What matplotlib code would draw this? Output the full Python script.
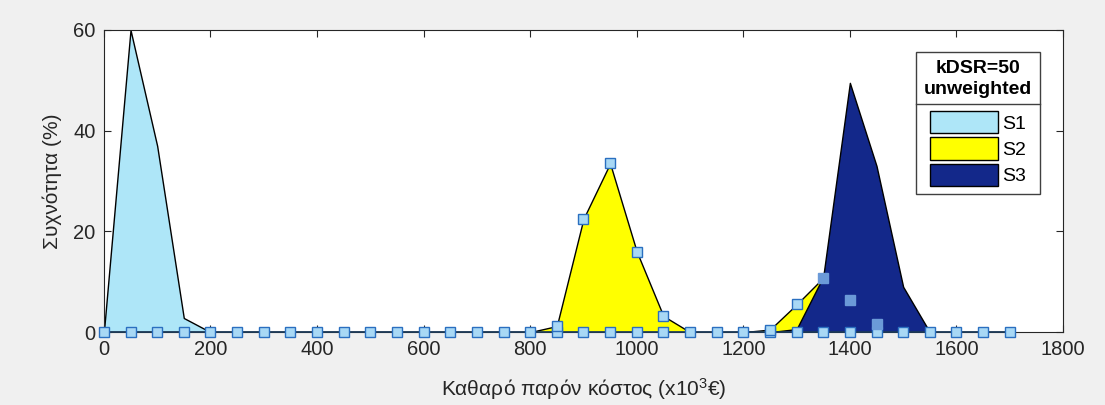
import numpy as np
from matplotlib import pyplot as plt
from matplotlib.patches import Patch
from matplotlib.lines import Line2D

plt.rcParams['font.family'] = ['Liberation Sans', 'DejaVu Sans']
plt.rcParams['mathtext.default'] = 'regular'

# cost bins (x10^3 EUR) and frequency (%) per scenario
cost = np.arange(0, 1750, 50)
s1 = [0, 60, 37, 2.8, 0] + [0] * 30
s2 = [0] * 17 + [1.2, 22.5, 33.5, 16, 3.2, 0, 0, 0, 0.5, 5.5, 10.8, 6.4, 1.7, 0] + [0] * 4
s3 = [0] * 26 + [0.6, 11, 49.5, 33, 9, 0] + [0] * 3
zero_line = [0] * 35

series = [("S1", s1, "#aee6f8"), ("S2", s2, "#ffff00"), ("S3", s3, "#13288a")]

fig = plt.figure(figsize=(11.05, 4.05), dpi=100, facecolor="#f0f0f0")
ax = fig.add_axes([0.094, 0.180, 0.868, 0.746])

for name, vals, col in series:
    ax.fill_between(cost, 0, vals, facecolor=col, edgecolor="black", linewidth=1, zorder=2)

ax.plot(cost, zero_line, color="#1d3c5c", linewidth=1.2, marker="s", markersize=7,
        markerfacecolor="#a8d8f5", markeredgecolor="#2a6fc0", markeredgewidth=1,
        zorder=4, clip_on=False)

s2a = np.array(s2)
s3a = np.array(s3)
shown = (s2a > 0) & (s3a <= s2a)
hidden = (s2a > 0) & (s3a > s2a)
ax.plot(cost[shown], s2a[shown], linestyle="none", marker="s", markersize=7,
        markerfacecolor="#a8d8f5", markeredgecolor="#2a6fc0", markeredgewidth=1,
        zorder=5, clip_on=False)
ax.plot(cost[hidden], s2a[hidden], linestyle="none", marker="s", markersize=7,
        markerfacecolor="#6b9ad8", markeredgecolor="#6b9ad8", zorder=5)

ax.set_xlim(0, 1800)
ax.set_ylim(0, 60)
ax.set_xticks(range(0, 1801, 200))
ax.set_yticks([0, 20, 40, 60])
ax.tick_params(direction="in", top=True, right=True, length=5, labelsize=14.5,
               colors="#262626", pad=6)
for sp in ax.spines.values():
    sp.set_color("#262626")
    sp.set_linewidth(0.8)

ax.set_xlabel("Καθαρό παρόν κόστος (x10$^{3}$€)", fontsize=15, color="#262626", labelpad=12)
ax.set_ylabel("Συχνότητα (%)", fontsize=15, color="#262626", labelpad=8)

handles = [Patch(facecolor=c, edgecolor="black", linewidth=1) for _, _, c in series]
leg = ax.legend(handles, [n for n, _, _ in series], loc="upper right",
                bbox_to_anchor=(0.976, 0.927), borderaxespad=0, fontsize=14,
                title="kDSR=50\nunweighted", title_fontproperties={"weight": "bold", "size": 14},
                fancybox=False, framealpha=1, edgecolor="#404040", handlelength=3.5,
                handleheight=1.4, handletextpad=0.25, labelspacing=0.2, borderpad=0.4)
leg.get_frame().set_linewidth(1)
leg.get_title().set_multialignment("center")
leg.get_title().set_linespacing(1.35)
leg._legend_box.sep = 9  # room for the separator under the title
leg.set_zorder(10)

fig.canvas.draw()
r = fig.canvas.get_renderer()
lb = leg.get_window_extent(r)
tb = leg.get_title().get_window_extent(r)
ysep = tb.y0 - 6
fig.add_artist(Line2D([lb.x0, lb.x1], [ysep, ysep], transform=None, color="#404040",
                      linewidth=1, zorder=11))

fig.savefig("out.png", dpi=100, facecolor=fig.get_facecolor())
